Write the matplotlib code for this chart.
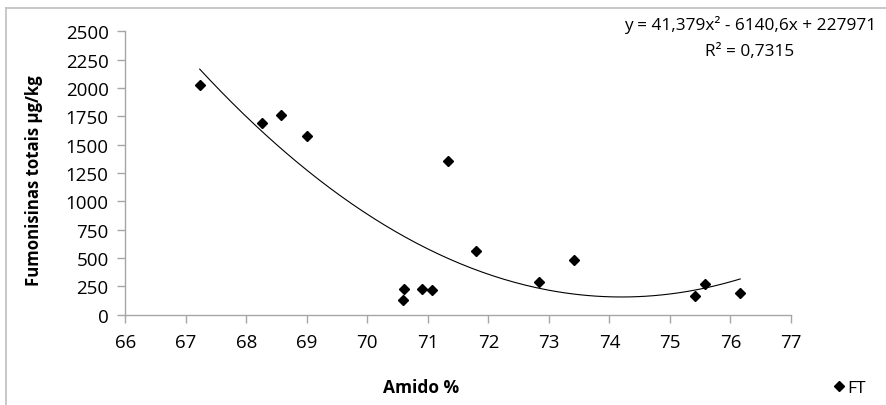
import matplotlib.pyplot as plt
from matplotlib.lines import Line2D
import numpy as np

plt.rcParams['font.family'] = ['Open Sans', 'DejaVu Sans']

# data
amido = [67.23, 68.26, 68.58, 69.00, 71.34, 70.60, 70.59, 70.91, 71.06,
         71.80, 72.83, 73.41, 75.42, 75.58, 76.16]
ft = [2026, 1691, 1759, 1579, 1353, 224, 127, 224, 215,
      559, 288, 482, 168, 271, 189]

# trendline coefficients as printed on the chart
coef = [41.379, -6140.6, 227971]
eq_text = "y = 41,379x² - 6140,6x + 227971"
r2_text = "R² = 0,7315"

fig = plt.figure(figsize=(8.86, 4.06), dpi=100)
ax = fig.add_axes([0.1414, 0.2224, 0.8928 - 0.1414, 0.9204 - 0.2224])

ax.plot(amido, ft, linestyle='none', marker='D', markersize=5.6,
        color='black', label='FT', clip_on=False)

xs = np.linspace(min(amido), max(amido), 200)
ax.plot(xs, np.polyval(coef, xs), color='black', linewidth=0.8)

ax.set_xlim(66, 77)
ax.set_ylim(0, 2500)
ax.set_xticks(range(66, 78))
ax.set_yticks(range(0, 2501, 250))

for s in ['top', 'right']:
    ax.spines[s].set_visible(False)
for s in ['left', 'bottom']:
    ax.spines[s].set_color('#a6a6a6')
    ax.spines[s].set_linewidth(1)
ax.tick_params(axis='both', colors='#a6a6a6', labelcolor='black',
               labelsize=13.5, length=6, width=1)
ax.tick_params(axis='x', pad=7)
ax.tick_params(axis='y', pad=6)

# axis titles
fig.text(34 / 886, 1 - 181 / 406, 'Fumonisinas totais µg/kg', fontsize=12.1,
         fontweight='bold', rotation=90, ha='center', va='center')
fig.text(421 / 886, 1 - 388 / 406, 'Amido %', fontsize=12.5,
         fontweight='bold', ha='center', va='center')

fig.text(750 / 886, 1 - 25 / 406, eq_text, fontsize=12.4, ha='center',
         va='center')
fig.text(750 / 886, 1 - 52 / 406, r2_text, fontsize=12.4, ha='center',
         va='center')

# legend
fig.legend(loc='center', bbox_to_anchor=(849 / 886, 1 - 389 / 406),
           frameon=False, fontsize=12.5, handletextpad=0.1,
           handlelength=0.8, markerscale=1.0)

# chart-area border
fig.add_artist(Line2D([6 / 886, 1], [1 - 9 / 406, 1 - 9 / 406],
                      color='#bfbfbf', linewidth=1.2))
fig.add_artist(Line2D([6 / 886, 6 / 886], [0, 1 - 9 / 406],
                      color='#bfbfbf', linewidth=1.2))

fig.savefig('out.png', dpi=100)
